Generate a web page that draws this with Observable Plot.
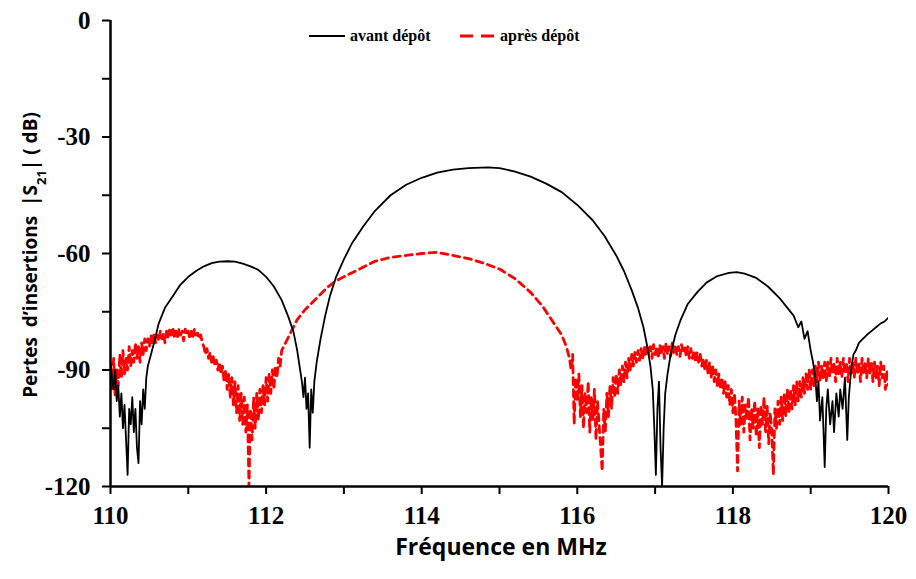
<!DOCTYPE html>
<html>
<head>
<meta charset="utf-8">
<script src="https://cdn.jsdelivr.net/npm/d3@7"></script>
<script src="https://cdn.jsdelivr.net/npm/@observablehq/plot@0.6"></script>
<style>
  html, body { margin: 0; padding: 0; background: #fff; }
  #wrap { position: relative; width: 916px; height: 579px; overflow: hidden; }
  .legitem { position: absolute; top: 27px; display: flex; align-items: center;
            font-family: "Liberation Serif", "DejaVu Serif", serif; font-weight: bold; font-size: 16px; color: #000; white-space: nowrap; }
  .legitem svg { margin-right: 4px; }
  #xlabel { position: absolute; left: 0; width: 1002px; top: 530px; text-align: center;
            font-family: "Open Sans", sans-serif; font-weight: bold; font-size: 23px; }
</style>
</head>
<body>
<div id="wrap"></div>
<script>
// ---- Data ----
const seriesNames = ["avant dépôt", "après dépôt"];

const freqAvant = [110.00,110.02,110.04,110.06,110.08,110.10,110.12,110.14,110.16,110.18,110.20,110.22,110.24,110.26,110.28,110.30,110.32,110.34,110.36,110.38,110.40,110.42,110.44,110.46,110.48,110.52,110.56,110.62,110.70,110.80,110.90,111.00,111.10,111.20,111.30,111.40,111.50,111.60,111.70,111.80,111.90,112.00,112.10,112.20,112.28,112.35,112.40,112.43,112.46,112.48,112.50,112.52,112.54,112.56,112.58,112.60,112.62,112.65,112.70,112.76,112.82,112.90,113.00,113.10,113.25,113.40,113.60,113.80,114.00,114.20,114.40,114.60,114.85,115.00,115.20,115.40,115.60,115.80,116.00,116.20,116.35,116.50,116.60,116.70,116.78,116.85,116.90,116.94,116.97,116.99,117.01,117.03,117.05,117.07,117.09,117.11,117.13,117.16,117.20,117.26,117.33,117.42,117.54,117.66,117.80,117.95,118.05,118.15,118.30,118.45,118.60,118.70,118.78,118.84,118.88,118.92,118.96,119.00,119.03,119.06,119.08,119.10,119.12,119.15,119.18,119.20,119.22,119.25,119.28,119.30,119.33,119.36,119.38,119.41,119.44,119.47,119.49,119.52,119.55,119.58,119.62,119.67,119.72,119.78,119.84,119.90,119.95,120.00];
const s21Avant = [-88,-92,-95,-90,-98,-94,-102,-96,-105,-99,-108,-117,-100,-104,-97,-106,-100,-110,-114,-98,-104,-95,-100,-92,-89,-86,-83,-78,-74,-71,-68,-66,-64.5,-63.3,-62.5,-62.1,-62,-62.1,-62.6,-63.3,-64.2,-66,-68.5,-72,-76,-80,-85,-89,-93,-97,-92,-100,-96,-110,-95,-101,-93,-88,-82,-76,-71,-66,-61.5,-57.5,-53,-49,-45,-42.3,-40.5,-39.2,-38.4,-38,-37.8,-38,-38.9,-40.2,-42,-44.2,-47.5,-51.5,-55.5,-60.5,-64.5,-69.5,-74,-79,-84,-89,-95,-105,-117,-100,-93,-110,-120,-105,-96,-91,-86,-81,-77,-73,-70,-67.5,-65.8,-65,-64.8,-65.2,-66.3,-68.5,-71.5,-74,-76,-79,-77.5,-82,-80,-85,-88,-92,-98,-93,-103,-97,-115,-100,-95,-104,-98,-106,-96,-102,-95,-100,-92,-108,-97,-90,-86,-85,-83,-82,-81,-80,-79,-78,-77.5,-76.5];

const freqApres = [
  110.00,110.02,110.04,110.06,110.08,110.10,110.12,110.14,110.16,110.18,
  110.20,110.22,110.24,110.26,110.28,110.30,110.32,110.34,110.36,110.38,
  110.40,110.42,110.44,110.46,110.48,110.50,110.52,110.54,110.56,110.58,
  110.60,110.62,110.64,110.66,110.68,110.70,110.72,110.74,110.76,110.78,
  110.80,110.82,110.84,110.86,110.88,110.90,110.92,110.94,110.96,110.98,
  111.00,111.02,111.04,111.06,111.08,111.10,111.12,111.14,111.16,111.18,
  111.20,111.22,111.24,111.26,111.28,111.30,111.32,111.34,111.36,111.38,
  111.40,111.42,111.44,111.46,111.48,111.50,111.52,111.54,111.56,111.58,
  111.60,111.62,111.64,111.66,111.68,111.70,111.72,111.74,111.76,111.78,
  111.80,111.82,111.84,111.86,111.88,111.90,111.92,111.94,111.96,111.98,
  112.00,112.02,112.04,112.06,112.08,112.10,112.12,112.14,112.16,112.18,
  112.20,
  112.30,112.40,112.50,112.60,112.70,112.80,112.90,113.00,113.20,113.40,
  113.60,113.80,114.00,114.20,114.40,114.60,114.80,115.00,115.20,115.40,
  115.55,115.70,115.80,115.86,115.90,
  115.92,115.94,115.96,115.98,116.00,116.02,116.04,116.06,116.08,116.10,
  116.12,116.14,116.16,116.18,116.20,116.22,116.24,116.26,116.28,116.30,
  116.32,116.34,116.36,116.38,116.40,116.42,116.44,116.46,116.48,116.50,
  116.52,116.54,116.56,116.58,116.60,116.62,116.64,116.66,116.68,116.70,
  116.72,116.74,116.76,116.78,116.80,116.82,116.84,116.86,116.88,116.90,
  116.92,116.94,116.96,116.98,117.00,117.02,117.04,117.06,117.08,117.10,
  117.12,117.14,117.16,117.18,117.20,117.22,117.24,117.26,117.28,117.30,
  117.32,117.34,117.36,117.38,117.40,117.42,117.44,117.46,117.48,117.50,
  117.52,117.54,117.56,117.58,117.60,117.62,117.64,117.66,117.68,117.70,
  117.72,117.74,117.76,117.78,117.80,117.82,117.84,117.86,117.88,117.90,
  117.92,117.94,117.96,117.98,118.00,118.02,118.04,118.06,118.08,118.10,
  118.12,118.14,118.16,118.18,118.20,118.22,118.24,118.26,118.28,118.30,
  118.32,118.34,118.36,118.38,118.40,118.42,118.44,118.46,118.48,118.50,
  118.52,118.54,118.56,118.58,118.60,118.62,118.64,118.66,118.68,118.70,
  118.72,118.74,118.76,118.78,118.80,118.82,118.84,118.86,118.88,118.90,
  118.92,118.94,118.96,118.98,119.00,119.02,119.04,119.06,119.08,119.10,
  119.12,119.14,119.16,119.18,119.20,119.22,119.24,119.26,119.28,119.30,
  119.32,119.34,119.36,119.38,119.40,119.42,119.44,119.46,119.48,119.50,
  119.52,119.54,119.56,119.58,119.60,119.62,119.64,119.66,119.68,119.70,
  119.72,119.74,119.76,119.78,119.80,119.82,119.84,119.86,119.88,119.90,
  119.92,119.94,119.96,119.98,120.00];
const s21Apres = [
  -89,-95,-87,-97,-90,-94,-86,-92,-85,-91,
  -87,-90,-84,-89,-85,-88,-83,-87,-84,-88,
  -83,-86,-82,-85,-82,-84,-81,-83.5,-80.5,-83,
  -81,-82.5,-80,-82,-80.5,-83,-80,-81.5,-79.5,-81,
  -79,-81.5,-80,-82,-79.5,-81,-80,-82.5,-79.5,-81,
  -80,-82,-80,-81.5,-79.5,-81,-80.5,-82,-81,-83,
  -84,-86,-84.5,-87,-85.5,-88,-86.5,-89,-87.5,-90,
  -88,-91,-89,-93,-90,-95,-91,-97,-92,-99,
  -93,-101,-94,-103,-96,-104,-97,-106,-99,-120,
  -100,-108,-97,-105,-96,-103,-95,-101,-94,-99,
  -92,-98,-91,-96,-90,-95,-89,-92,-87,-89,
  -85,
  -81,-77,-74.5,-72.5,-70.5,-68.5,-67,-66,-64,-62,
  -61,-60.5,-60,-59.7,-60.5,-61.3,-62.5,-64,-66.5,-70,
  -73.5,-78,-81,-84,-87,
  -90,-86,-104,-92,-98,-91,-102,-94,-105,-96,
  -101,-93,-106,-97,-103,-95,-108,-98,-104,-110,
  -116,-100,-106,-96,-102,-94,-100,-92,-97,-91,
  -96,-90,-94,-89,-93,-88,-92,-87,-90,-86,
  -89,-85.5,-88,-85,-87.5,-84.5,-87,-84,-86.5,-83.5,
  -86,-84,-87,-83.5,-86,-84,-87,-83.5,-86,-84,
  -87,-83,-86,-84,-86.5,-83,-85.5,-83.5,-86,-84,
  -86.5,-83.5,-85,-84,-86.5,-84,-87,-84.5,-87,-85,
  -88,-85.5,-88,-86,-89,-87,-90,-87.5,-91,-88,
  -92,-89,-93,-90,-94,-91,-95,-92,-96,-93,
  -97,-94,-99,-95,-101,-96,-103,-116,-98,-104,
  -97,-106,-99,-103,-97,-108,-100,-105,-98,-107,
  -100,-110,-99,-104,-97,-106,-99,-109,-101,-106,
  -117,-100,-105,-98,-104,-97,-103,-96,-102,-95,
  -101,-95,-100,-94,-99,-93,-98,-93,-97,-92,
  -96,-91,-95,-90,-95,-90,-94,-89,-93,-88,
  -93,-89,-92,-88,-93,-88,-92,-87,-91,-88,
  -93,-87,-91,-88,-92,-87,-91,-88,-93,-87,
  -91,-88,-92,-87,-91,-88,-93,-87,-91,-88,
  -92,-87,-91,-88,-93,-88,-92,-89,-94,-88,
  -92,-89,-95,-90,-94];

const xTickLabels = [110, 112, 114, 116, 118, 120];
const xMinorTicks = [111, 113, 115, 117, 119];
const yTickLabels = [0, -30, -60, -90, -120];
const yMinorTicks = [-15, -45, -75, -105];
const xTitle = "Fréquence en MHz";

// ---- Build tidy table for Plot ----
const avant = freqAvant.map((f, i) => ({f, v: s21Avant[i], s: seriesNames[0]}));
const apres = freqApres.map((f, i) => ({f, v: s21Apres[i], s: seriesNames[1]}));

const chart = Plot.plot({
  width: 916,
  height: 579,
  marginLeft: 110,
  marginRight: 28,
  marginTop: 20,
  marginBottom: 93,
  x: {domain: [110, 120]},
  y: {domain: [-120, 0]},
  style: {fontFamily: "'Liberation Serif', serif", fontWeight: "bold", fontSize: "25px", color: "#000", background: "#fff", overflow: "visible"},
  marks: [
    Plot.line(apres, {x: "f", y: "v", stroke: "#ff0000", strokeWidth: 2.8, strokeDasharray: "7,5", clip: true}),
    Plot.line(avant, {x: "f", y: "v", stroke: "#000", strokeWidth: 1.8, clip: true}),
    Plot.axisX(xTickLabels, {tickSize: 8, tickPadding: 12, strokeWidth: 2, label: null, fontSize: 25, tickFormat: d => String(d)}),
    Plot.axisX(xMinorTicks, {tickSize: 8, strokeWidth: 2, tickFormat: () => "", label: null}),
    Plot.axisY(yTickLabels, {tickSize: 8, tickPadding: 12, strokeWidth: 2, label: null, fontSize: 25, tickFormat: d => String(d)}),
    Plot.axisY(yMinorTicks, {tickSize: 8, strokeWidth: 2, tickFormat: () => "", label: null}),
    Plot.ruleY([-120], {stroke: "#000", strokeWidth: 2.5}),
    Plot.ruleX([110], {stroke: "#000", strokeWidth: 2.5})
  ]
});

const wrap = document.getElementById("wrap");
wrap.appendChild(chart);

// Y-axis title with subscript
const svg = d3.select(chart);
const yt = svg.append("text")
  .attr("transform", "translate(37,255) rotate(-90)")
  .attr("text-anchor", "middle")
  .style("font-family", "'Open Sans', sans-serif")
  .style("font-weight", "bold")
  .style("font-size", "19px")
  .attr("fill", "#000");
yt.append("tspan").text("Pertes  d’insertions  |S");
yt.append("tspan").attr("baseline-shift", "sub").style("font-size", "13px").text("21");
yt.append("tspan").attr("baseline-shift", "0").text("| ( dB)");

// X-axis title
const xl = document.createElement("div");
xl.id = "xlabel";
xl.textContent = xTitle;
wrap.appendChild(xl);

// Legend
const leg1 = document.createElement("div");
leg1.className = "legitem";
leg1.style.left = "308px";
leg1.innerHTML = `<svg width="38" height="10"><line x1="1" x2="37" y1="5" y2="5" stroke="#000" stroke-width="2"/></svg><span>${seriesNames[0]}</span>`;
const leg2 = document.createElement("div");
leg2.className = "legitem";
leg2.style.left = "458px";
leg2.innerHTML = `<svg width="38" height="10"><line x1="2" x2="36" y1="5" y2="5" stroke="#ff0000" stroke-width="3.2" stroke-dasharray="13,8"/></svg><span>${seriesNames[1]}</span>`;
wrap.appendChild(leg1);
wrap.appendChild(leg2);
</script>
</body>
</html>
